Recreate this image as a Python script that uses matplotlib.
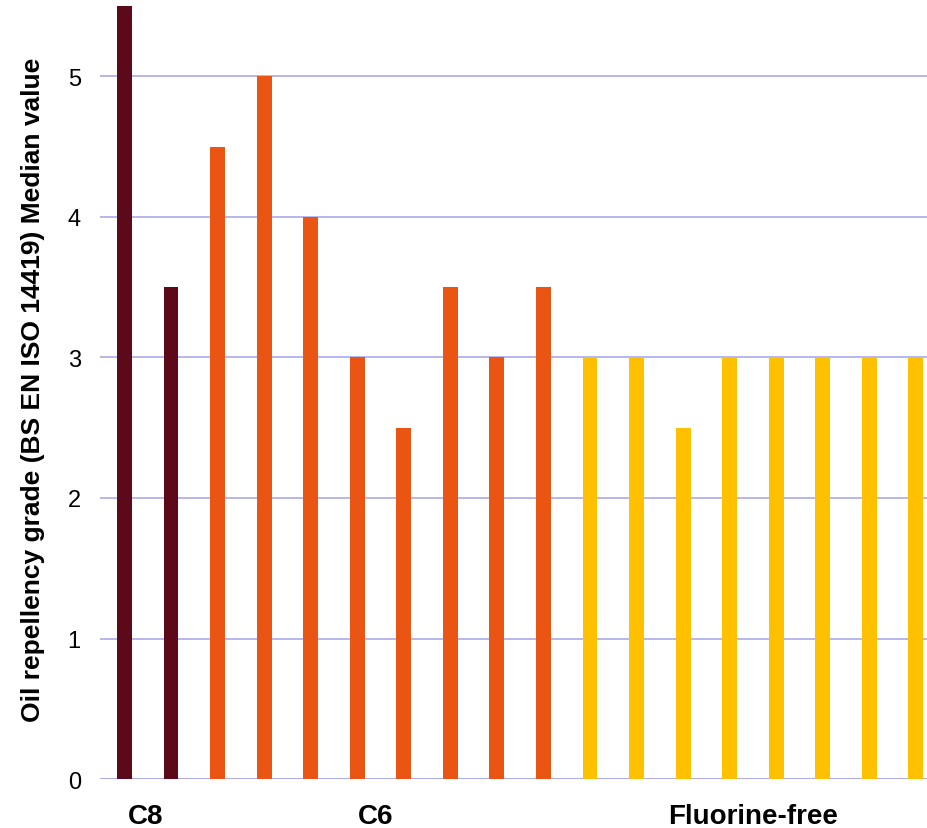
import numpy as np
import matplotlib.pyplot as plt

plt.rcParams['font.family'] = ['Liberation Sans', 'DejaVu Sans']

# median oil repellency grade per product
c8 = [5.5, 3.5]
c6 = [4.5, 5, 4, 3, 2.5, 3.5, 3, 3.5]
ff = [3, 3, 2.5, 3, 3, 3, 3, 3]
groups = ["C8", "C6", "Fluorine-free"]
colors = ["#5C0A1A", "#EA5514", "#FFC000"]

fig = plt.figure(figsize=(9.28, 8.29), dpi=100)
ax = fig.add_axes([0.108, 0.059, 0.892, 0.941])

vals = c8 + c6 + ff
cols = [colors[0]] * len(c8) + [colors[1]] * len(c6) + [colors[2]] * len(ff)
x = np.arange(len(vals))
ax.bar(x, vals, width=0.32, color=cols, zorder=3)

ax.set_ylim(0, 5.55)
ax.set_xlim(-0.52, len(vals) - 1 + 0.26)
ax.set_yticks(range(0, 6))
ax.tick_params(axis="y", length=0, labelsize=17, pad=14)
ax.set_xticks([])
ax.grid(axis="y", color="#AAAAEE", linewidth=1.2, zorder=0)
for s in ax.spines.values():
    s.set_visible(False)
ax.axhline(0, color="#AAAAEE", linewidth=2, zorder=2)

ax.set_ylabel("Oil repellency grade (BS EN ISO 14419) Median value",
              fontsize=19, fontweight="bold", labelpad=16)

# group labels under the axis
lab_x = [0.45, 5.4, 13.5]
for gx, g in zip(lab_x, groups):
    ax.text(gx, -0.26, g, ha="center", va="center", fontsize=20,
            fontweight="bold", clip_on=False)

fig.savefig("out.png")
